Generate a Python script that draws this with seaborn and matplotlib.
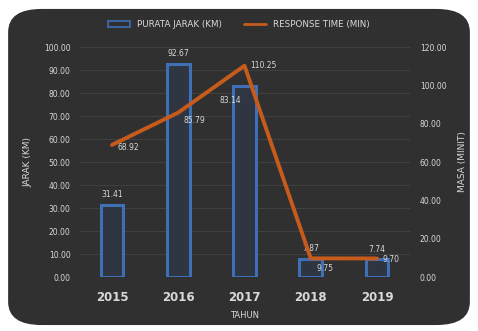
import numpy as np
import pandas as pd
import matplotlib.pyplot as plt
import seaborn as sns
from matplotlib.patches import FancyBboxPatch, Patch
from matplotlib.lines import Line2D

# data
tahun = ['2015', '2016', '2017', '2018', '2019']
jarak = [31.41, 92.67, 83.14, 7.87, 7.74]          # purata jarak (km)
masa = [68.92, 85.79, 110.25, 9.75, 9.70]          # response time (min)

bg = '#303030'
txt = '#d9d9d9'
blue = '#3f6fb5'
orange = '#c65b1c'

sns.set_theme(style='dark')
plt.rcParams['font.family'] = ['DejaVu Sans']

fig = plt.figure(figsize=(4.78, 3.31), dpi=100, facecolor='white')
# rounded dark panel
panel = FancyBboxPatch((0.017, 0.018), 0.966, 0.955, boxstyle='round,pad=0,rounding_size=0.07',
                       transform=fig.transFigure, facecolor=bg, edgecolor='none', zorder=-10)
fig.patches.append(panel)

ax = fig.add_axes([0.165, 0.163, 0.693, 0.695])
ax.set_facecolor(bg)
df = pd.DataFrame({'tahun': tahun, 'jarak': jarak, 'masa': masa})

sns.barplot(data=df, x='tahun', y='jarak', ax=ax, width=0.34, color='#2f3541',
            edgecolor=blue, linewidth=2.2, saturation=1)
ax.set_ylim(0, 100)
ax.set_xlim(-0.5, 4.5)
ax.set_yticks(np.arange(0, 101, 10))
ax.set_yticklabels([f'{v:.2f}' for v in np.arange(0, 101, 10)], fontsize=5.5, color=txt)
ax.tick_params(axis='x', colors=txt, labelsize=8.5, length=0, pad=10)
ax.tick_params(axis='y', length=0, pad=6)
for lb in ax.get_xticklabels():
    lb.set_fontweight('bold')
ax.grid(axis='y', color='#444444', linewidth=0.6)
ax.set_axisbelow(True)
for s in ax.spines.values():
    s.set_visible(False)
ax.set_xlabel('TAHUN', color=txt, fontsize=6, labelpad=5)
ax.set_ylabel('JARAK (KM)', color=txt, fontsize=6.5, labelpad=8)

ax2 = ax.twinx()
sns.lineplot(data=df, x='tahun', y='masa', ax=ax2, color=orange, linewidth=2.8, sort=False)
ax2.set_ylim(0, 120)
ax2.set_yticks(np.arange(0, 121, 20))
ax2.set_yticklabels([f'{v:.2f}' for v in np.arange(0, 121, 20)], fontsize=5.5, color=txt)
ax2.tick_params(axis='y', length=0, pad=7)
ax2.set_ylabel('MASA (MINIT)', color=txt, fontsize=6.5, labelpad=8)
ax2.grid(False)
for s in ax2.spines.values():
    s.set_visible(False)
ax2.set_xlabel('')

# data labels
bar_off = [(0, 4), (0, 4), (-10, -14), (0, 4), (0, 4)]
for i, v in enumerate(jarak):
    ax.annotate(f'{v:.2f}', (i, v), xytext=bar_off[i], textcoords='offset points',
                ha='center', va='bottom', fontsize=5.5, color=txt)
line_off = [(4, -2), (4, -6), (4, 0), (4, -7), (4, -1)]
for i, v in enumerate(masa):
    ax2.annotate(f'{v:.2f}', (i, v), xytext=line_off[i], textcoords='offset points',
                 ha='left', va='center', fontsize=5.5, color=txt)

handles = [Patch(facecolor=bg, edgecolor=blue, linewidth=1.2),
           Line2D([0], [0], color=orange, linewidth=2)]
fig.legend(handles, ['PURATA JARAK (KM)', 'RESPONSE TIME (MIN)'], loc='center',
           bbox_to_anchor=(0.5, 0.925), ncol=2, frameon=False, fontsize=6.3,
           labelcolor=txt, handlelength=2.5, columnspacing=2.5)

fig.savefig('out.png', dpi=100, facecolor='white')
